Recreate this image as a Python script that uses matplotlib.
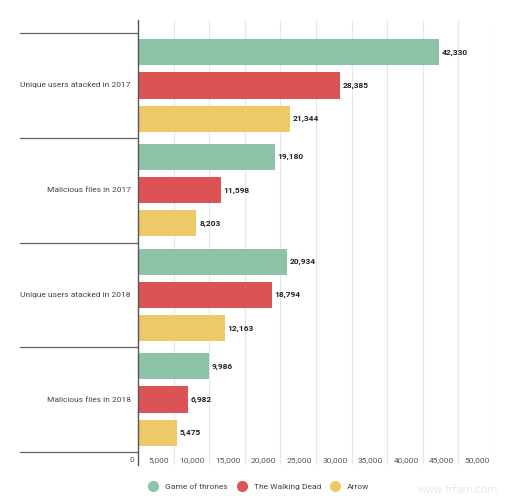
import matplotlib
matplotlib.use("Agg")
import matplotlib.pyplot as plt
from matplotlib.lines import Line2D
import matplotlib.transforms as mtransforms

categories = ["Unique users atacked in 2017", "Malicious files in 2017",
              "Unique users atacked in 2018", "Malicious files in 2018"]
series_names = ["Game of thrones", "The Walking Dead", "Arrow"]
game_of_thrones = [42330, 19180, 20934, 9986]
walking_dead = [28385, 11598, 18794, 6982]
arrow = [21344, 8203, 12163, 5475]
tick_values = [0, 5000, 10000, 15000, 20000, 25000, 30000, 35000, 40000, 45000, 50000]

colors = ["#8DC3A7", "#DC5356", "#EDC96A"]
series = [game_of_thrones, walking_dead, arrow]

plt.rcParams['font.family'] = ['Roboto', 'DejaVu Sans']
fig = plt.figure(figsize=(5.21, 5.0), dpi=100)
ax = fig.add_axes([138/521, 1-465/500, 356/521, 445/500])

pitch = 0.317
height = 0.25
for si, (vals, c) in enumerate(zip(series, colors)):
    for ci, v in enumerate(vals):
        y = ci + (si - 1) * pitch
        ax.barh(y, v, height=height, color=c, edgecolor='none', zorder=2)
        ax.annotate(f"{v:,}", (v, y), xytext=(2, 0), textcoords='offset points',
                    ha='left', va='center', fontsize=6, fontweight='bold',
                    color='#222222')

ax.set_xlim(0, 50000)
ax.set_ylim(3.5 + 0.125, -0.5 - 0.125)
for t in tick_values[1:]:
    ax.axvline(t, color='#E6E6E6', lw=0.8, zorder=0)
ax.set_xticks([])
ax.set_yticks([])
for s in ['top', 'right', 'bottom']:
    ax.spines[s].set_visible(False)
ax.spines['left'].set_color('#555555')
ax.spines['left'].set_linewidth(1.0)

for t in tick_values:
    ax.annotate(f"{t:,}", (t, 3.58), xytext=(-3, 0), textcoords='offset points',
                ha='right', va='center', fontsize=6, color='#555555')

trans = mtransforms.blended_transform_factory(ax.transAxes, ax.transData)
for b in [-0.5, 0.5, 1.5, 2.5, 3.5]:
    ax.plot([-118/356, 0], [b, b], transform=trans, color='#666666', lw=0.9,
            clip_on=False)
for ci, cat in enumerate(categories):
    ax.text(-7/356, ci, cat, transform=trans, ha='right', va='center',
            fontsize=6, color='#444444')

handles = [Line2D([0], [0], marker='o', linestyle='none', markersize=7,
                  markerfacecolor=c, markeredgecolor=c) for c in colors]
fig.legend(handles, series_names, loc='center', bbox_to_anchor=(258/521, 1-487/500),
           ncol=3, frameon=False, fontsize=6, handlelength=1.5, handletextpad=0.7,
           columnspacing=0.9, labelcolor='#444444')

fig.text(458/521, 1-490/500, "www.frfam.com", ha='center', va='center',
         fontsize=8, color='#EAEAEA')

fig.savefig("out.png", dpi=100)
